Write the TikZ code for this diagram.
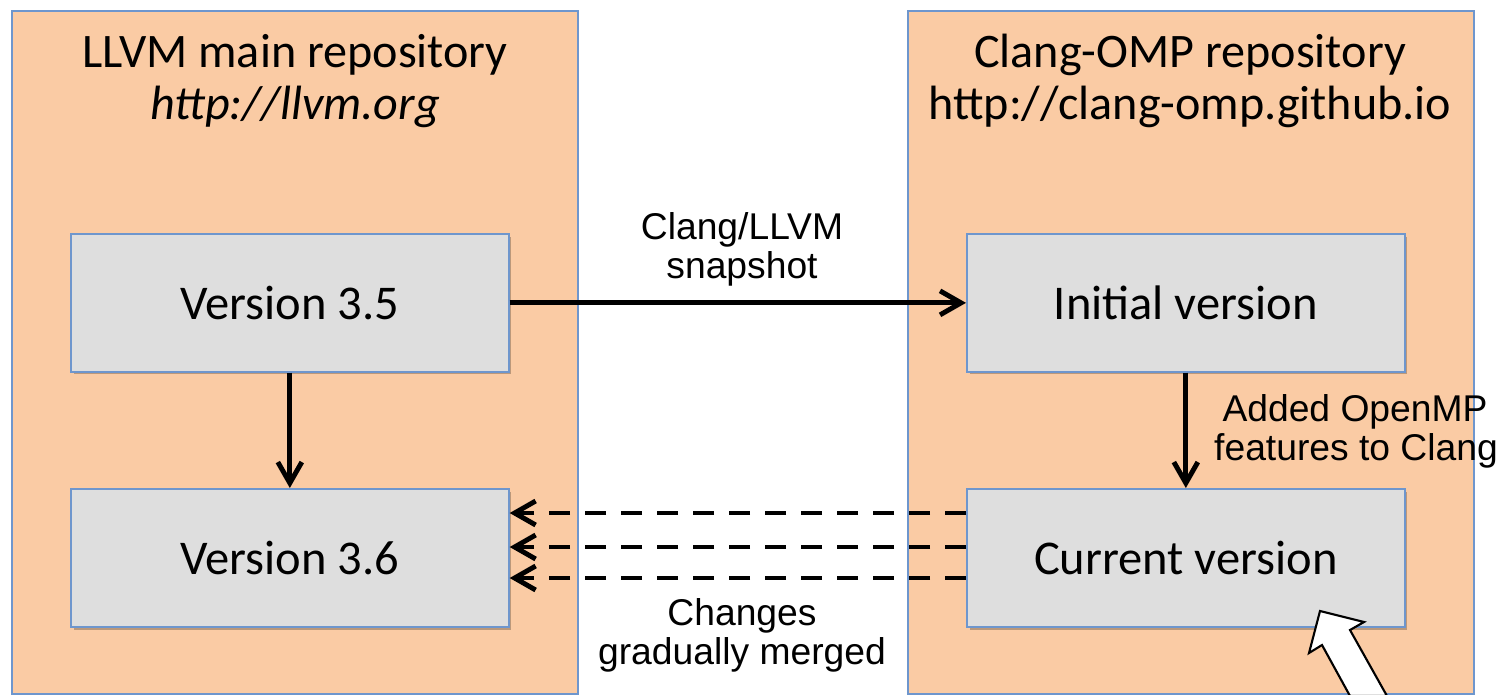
\documentclass[tikz,border=0pt]{standalone}
\usepackage{fontspec}
\setmainfont{Carlito}
\newfontfamily\arialf{Liberation Sans}
\usetikzlibrary{arrows.meta,calc,shadows}
\definecolor{peach}{RGB}{250,203,164}
\definecolor{boxgray}{RGB}{222,222,222}
\definecolor{bordblue}{RGB}{110,150,205}
\tikzset{
  repo/.style={draw=bordblue, line width=1pt, fill=peach, anchor=north west,
    minimum width=11.32cm, minimum height=13.66cm, inner sep=0pt},
  verbox/.style={draw=bordblue, line width=1pt, fill=boxgray, anchor=north west,
    minimum width=8.76cm, minimum height=2.76cm, inner sep=0pt,
    font=\fontsize{27.6}{32}\selectfont,
    drop shadow={shadow xshift=1.5pt, shadow yshift=-1.5pt, opacity=0.25, fill=black}},
  title/.style={anchor=base, font=\fontsize{27.4}{32}\selectfont, inner sep=0pt},
  lbl/.style={anchor=base, font=\arialf\fontsize{21.2}{25}\selectfont, inner sep=0pt},
  arr/.style={line width=2.8pt, -{Straight Barb[length=0.42cm, width=0.48cm, line width=2.8pt]}},
  darr/.style={arr, dash pattern=on 0.42cm off 0.3cm},
}
\begin{document}
\begin{tikzpicture}[x=0.02cm,y=-0.02cm]
\useasboundingbox (0,0) rectangle (1503,694);
\fill[white] (0,0) rectangle (1503,694);
% repositories
\node[repo] (llvm) at (11,10) {};
\node[repo] (omp) at (907,10) {};
\node[title] (t1) at (295,67) {LLVM main repository};
\node[title] (t2) at (295,119) {\itshape http://llvm.org};
\node[title] (t3) at (1190,67) {Clang-OMP repository};
\node[title] (t4) at (1190,119) {http://clang-omp.github.io};
% version boxes
\node[verbox] (v35) at (70,233) {Version 3.5};
\node[verbox] (v36) at (70,488) {Version 3.6};
\node[verbox] (init) at (966,233) {Initial version};
\node[verbox] (cur) at (966,488) {Current version};
% arrows
\draw[arr] (v35.east) -- (init.west);
\draw[arr] (v35.south) -- (v36.north);
\draw[arr] (init.south) -- (cur.north);
\draw[darr] ($(cur.north west)+(0,25)$) -- ($(v36.north east)+(0,25)$);
\draw[darr] ($(cur.north west)+(0,59)$) -- ($(v36.north east)+(0,59)$);
\draw[darr] ($(cur.north west)+(0,90)$) -- ($(v36.north east)+(0,90)$);
% labels
\node[lbl] (l1) at (742,239) {Clang/LLVM};
\node[lbl] (l2) at (742,278) {snapshot};
\node[lbl] (l3) at (1355,421) {Added OpenMP};
\node[lbl] (l4) at (1356,460) {features to Clang};
\node[lbl] (l5) at (742,625) {Changes};
\node[lbl] (l6) at (742,664) {gradually merged};
% white block arrow
\draw[line width=1.2pt, fill=white, line join=miter]
  (1320,611) -- (1364,622) -- (1350,630) -- (1387,696) -- (1350,696)
  -- (1322,645) -- (1309,653) -- cycle;
\end{tikzpicture}
\end{document}
